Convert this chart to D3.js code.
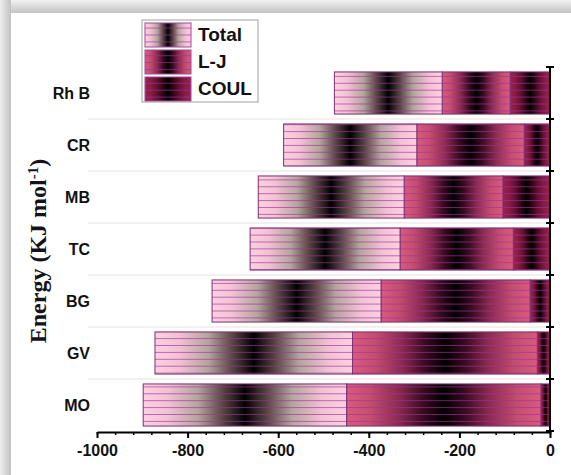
<!DOCTYPE html>
<html>
<head>
<meta charset="utf-8">
<script src="https://cdn.jsdelivr.net/npm/d3@7"></script>
<style>
  body { margin: 0; background: #fff; }
  svg { display: block; }
  .lbl { font-family: Arial, "Liberation Sans", sans-serif; font-weight: bold; fill: #111; }
</style>
</head>
<body>
<svg class="chart"></svg>
<script>
var categories = ["Rh B", "CR", "MB", "TC", "BG", "GV", "MO"];
var totalVals = [-238, -294, -322, -331, -373, -436, -449];
var ljVals = [-150, -237, -218, -250, -329, -408, -429];
var coulVals = [-88, -57, -104, -81, -44, -28, -20];
var seriesNames = ["Total", "L-J", "COUL"];
var xTicks = [-1000, -800, -600, -400, -200, 0];

var W = 571, H = 475;
var svg = d3.select(".chart").attr("width", W).attr("height", H);
var defs = svg.append("defs");

// frame shadow on the top and left edge
var gTop = defs.append("linearGradient").attr("id", "frameTop").attr("x1", 0).attr("y1", 0).attr("x2", 0).attr("y2", 1);
gTop.append("stop").attr("offset", 0).attr("stop-color", "#f2f2f2");
gTop.append("stop").attr("offset", 0.6).attr("stop-color", "#d6d6d6");
gTop.append("stop").attr("offset", 1).attr("stop-color", "#c4c4c4");
var gLeft = defs.append("linearGradient").attr("id", "frameLeft").attr("x1", 0).attr("y1", 0).attr("x2", 1).attr("y2", 0);
gLeft.append("stop").attr("offset", 0).attr("stop-color", "#eeeeee");
gLeft.append("stop").attr("offset", 0.6).attr("stop-color", "#d4d4d4");
gLeft.append("stop").attr("offset", 1).attr("stop-color", "#c2c2c2");

svg.append("rect").attr("x", 0).attr("y", 0).attr("width", W).attr("height", 13).attr("fill", "url(#frameTop)");
svg.append("rect").attr("x", 0).attr("y", 0).attr("width", 11).attr("height", H).attr("fill", "url(#frameLeft)");

// cylinder-like gradients for each series
var gradStops = {
    "Total": ["#fcd0e2", "#f2c2d4", "#b4a49e", "#5a4646", "#000000"],
    "L-J": ["#d85b7d", "#c44e70", "#8a2a50", "#3a0c22", "#000000"],
    "COUL": ["#98224e", "#8a1c46", "#601030", "#2c0614", "#000000"]
};
var offs = [0, 0.12, 0.27, 0.39, 0.5];
seriesNames.forEach(function(s, i) {
    var g = defs.append("linearGradient").attr("id", "grad" + i)
        .attr("x1", 0).attr("y1", 0).attr("x2", 1).attr("y2", 0);
    var c = gradStops[s];
    offs.forEach(function(o, k) {
        g.append("stop").attr("offset", o).attr("stop-color", c[k]);
    });
    for (var k = offs.length - 2; k >= 0; k--) {
        g.append("stop").attr("offset", 1 - offs[k]).attr("stop-color", c[k]);
    }
});

// horizontal stripe pattern
var pat = defs.append("pattern").attr("id", "stripes")
    .attr("patternUnits", "userSpaceOnUse").attr("width", 20).attr("height", 6.9);
pat.append("line").attr("x1", 0).attr("x2", 20).attr("y1", 0.5).attr("y2", 0.5)
    .attr("stroke", "#a2309c").attr("stroke-opacity", 0.65).attr("stroke-width", 1);

var x = d3.scaleLinear().domain([-1000, 0]).range([97, 550]);
var y = d3.scaleBand().domain(categories).range([67, 431])
    .paddingInner(0.19).paddingOuter(0.095);

// stacked: COUL next to zero, then L-J, then Total
var rows = categories.map(function(c, i) {
    return { cat: c, "Total": totalVals[i], "L-J": ljVals[i], "COUL": coulVals[i] };
});
var stacked = d3.stack().keys(["COUL", "L-J", "Total"])
    .offset(d3.stackOffsetDiverging)(rows);

var gap = (y.step() - y.bandwidth()) / 2;
var bounds = categories.map(function(c) { return y(c) - gap; });
bounds.push(y(categories[categories.length - 1]) + y.bandwidth() + gap);

// faint separators
svg.append("g").selectAll("line").data(bounds.slice(1, -1)).enter().append("line")
    .attr("x1", 88).attr("x2", x(0))
    .attr("y1", function(d) { return d; }).attr("y2", function(d) { return d; })
    .attr("stroke", "#ececec").attr("stroke-width", 1.5);

stacked.forEach(function(layer) {
    var idx = seriesNames.indexOf(layer.key);
    var g = svg.append("g");
    var seg = g.selectAll("g").data(layer).enter().append("g");
    seg.append("rect")
        .attr("x", function(d) { return x(d[0]); })
        .attr("y", function(d) { return y(d.data.cat); })
        .attr("width", function(d) { return x(d[1]) - x(d[0]); })
        .attr("height", y.bandwidth())
        .attr("fill", "url(#grad" + idx + ")");
    seg.append("rect")
        .attr("x", function(d) { return x(d[0]); })
        .attr("y", function(d) { return y(d.data.cat); })
        .attr("width", function(d) { return x(d[1]) - x(d[0]); })
        .attr("height", y.bandwidth())
        .attr("fill", "url(#stripes)")
        .attr("stroke", "#7b2f72").attr("stroke-width", 1);
});

// category labels
svg.append("g").selectAll("text").data(categories).enter().append("text")
    .attr("class", "lbl")
    .attr("x", 90)
    .attr("y", function(d) { return y(d) + y.bandwidth() / 2 + 6; })
    .attr("text-anchor", "end")
    .style("font-size", "16px")
    .text(function(d) { return d; });

// right-hand zero axis
var yAx = svg.append("g");
yAx.append("line").attr("x1", x(0)).attr("x2", x(0))
    .attr("y1", bounds[0]).attr("y2", bounds[bounds.length - 1])
    .attr("stroke", "#000").attr("stroke-width", 2);
yAx.selectAll(".tk").data(bounds).enter().append("line")
    .attr("x1", x(0) - 4).attr("x2", x(0) + 4)
    .attr("y1", function(d) { return d; }).attr("y2", function(d) { return d; })
    .attr("stroke", "#000").attr("stroke-width", 2);

// bottom axis, minor then major
var axisY = 432;
svg.append("g").attr("transform", "translate(0," + axisY + ")")
    .call(d3.axisBottom(x).tickValues(d3.range(-1000, 1, 40)).tickSize(3).tickFormat(""))
    .call(function(g) { g.select(".domain").remove(); })
    .selectAll("line").attr("stroke-width", 1.5);
var xAx = svg.append("g").attr("transform", "translate(0," + axisY + ")")
    .call(d3.axisBottom(x).tickValues(xTicks).tickSize(6).tickSizeOuter(0)
        .tickFormat(function(d) { return String(d); }));
xAx.select(".domain").attr("stroke-width", 2);
xAx.selectAll("line").attr("stroke-width", 2);
xAx.selectAll("text").attr("class", "lbl").attr("dy", "0.95em")
    .style("font-size", "16px");

// y title
svg.append("text")
    .attr("transform", "translate(46,251) rotate(-90)")
    .attr("text-anchor", "middle")
    .style("font-family", "'Times New Roman', 'Liberation Serif', serif")
    .style("font-weight", "bold").style("font-size", "24px").style("fill", "#15121a")
    .call(function(t) {
        t.append("tspan").text("Energy (KJ mol");
        t.append("tspan").attr("baseline-shift", "super").style("font-size", "15px").text("-1");
        t.append("tspan").text(")");
    });

// legend
var leg = svg.append("g");
leg.append("rect").attr("x", 142).attr("y", 20).attr("width", 116).attr("height", 82)
    .attr("fill", "#fff").attr("stroke", "#a0a0a0").attr("stroke-width", 1);
var legY = [23, 50, 77];
seriesNames.forEach(function(s, i) {
    leg.append("rect").attr("x", 145).attr("y", legY[i]).attr("width", 46).attr("height", 24)
        .attr("fill", "url(#grad" + i + ")");
    leg.append("rect").attr("x", 145).attr("y", legY[i]).attr("width", 46).attr("height", 24)
        .attr("fill", "url(#stripes)").attr("stroke", "#a04a9a").attr("stroke-width", 1);
    leg.append("text").attr("class", "lbl").attr("x", 198).attr("y", legY[i] + 18)
        .style("font-size", "19px").text(s);
});
</script>
</body>
</html>
